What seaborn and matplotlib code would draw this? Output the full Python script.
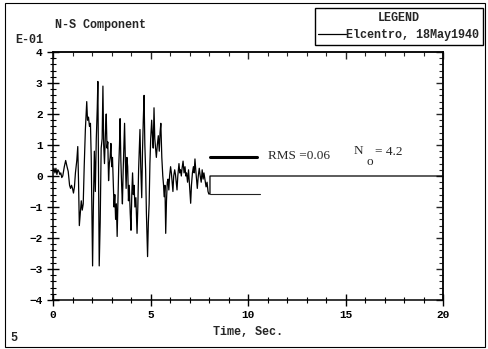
import matplotlib
matplotlib.use("Agg")
import matplotlib.pyplot as plt
import seaborn as sns
import pandas as pd
from matplotlib.patches import Rectangle

# ---- data ----
time_s = [0.00, 0.05, 0.10, 0.15, 0.20, 0.25, 0.30, 0.35, 0.40, 0.45, 0.50, 0.58, 0.65, 0.72, 0.78,
          0.85, 0.90, 0.95, 1.00, 1.05, 1.10, 1.15, 1.22, 1.27, 1.31, 1.35, 1.40, 1.45, 1.50, 1.55,
          1.60, 1.66, 1.70, 1.73, 1.77, 1.82, 1.87, 1.92, 1.96, 2.00, 2.03, 2.07, 2.12, 2.17, 2.22,
          2.27, 2.30, 2.33, 2.37, 2.42, 2.47, 2.52, 2.56, 2.60, 2.64, 2.69, 2.73, 2.77, 2.81, 2.85,
          2.89, 2.93, 2.97, 3.01, 3.05, 3.09, 3.13, 3.17, 3.21, 3.25, 3.29, 3.33, 3.37, 3.41, 3.44,
          3.48, 3.52, 3.56, 3.60, 3.64, 3.67, 3.71, 3.75, 3.79, 3.83, 3.87, 3.91, 3.96, 4.00, 4.04,
          4.08, 4.12, 4.16, 4.20, 4.25, 4.31, 4.35, 4.39, 4.43, 4.46, 4.50, 4.55, 4.59, 4.63, 4.67,
          4.71, 4.75, 4.79, 4.85, 4.89, 4.93, 4.97, 5.01, 5.06, 5.10, 5.14, 5.18, 5.22, 5.26, 5.30,
          5.35, 5.40, 5.45, 5.49, 5.53, 5.58, 5.63, 5.67, 5.70, 5.74, 5.78, 5.82, 5.86, 5.90, 5.94,
          5.98, 6.03, 6.07, 6.11, 6.15, 6.19, 6.24, 6.28, 6.32, 6.36, 6.40, 6.46, 6.50, 6.54, 6.58,
          6.62, 6.67, 6.72, 6.77, 6.81, 6.85, 6.90, 6.95, 7.00, 7.06, 7.10, 7.15, 7.20, 7.24, 7.28,
          7.32, 7.36, 7.40, 7.45, 7.50, 7.55, 7.60, 7.65, 7.70, 7.74, 7.79, 7.85, 7.90, 7.95, 7.99,
          8.05, 8.05, 20.0]
accel_e01 = [0.15, 0.25, 0.10, 0.25, 0.05, 0.20, 0.15, 0.05, 0.10, -0.05, 0.00, 0.30, 0.50, 0.30, 0.15,
             -0.30, -0.40, -0.30, -0.40, -0.55, -0.35, 0.10, 0.50, 0.95, -0.20, -1.60, -1.20, -0.80, -1.10, -0.90,
             0.30, 1.50, 2.00, 2.40, 1.80, 1.90, 1.60, 1.70, 0.60, -1.50, -2.90, -1.00, 0.80, -0.50, 1.20,
             2.20, 3.05, 0.40, -2.90, -1.50, 0.90, 1.20, 2.90, 1.00, 0.40, 1.40, 2.00, 0.90, 1.10, -0.15,
             0.40, 0.60, 1.05, 0.30, 0.60, -0.20, -1.00, -0.60, -1.40, -0.90, -1.95, -0.80, 0.30, 1.00, 1.85,
             0.50, -0.30, -0.90, 0.20, 1.00, 1.70, 0.50, -0.40, 0.60, 0.30, -0.80, -0.30, -1.20, -1.75, -0.60,
             0.10, -0.60, -0.30, -1.00, -0.70, -1.85, -1.00, 0.20, 1.00, 1.50, 0.30, -0.70, 0.80, 1.80, 2.60,
             1.00, 0.20, -1.20, -2.60, -1.50, -0.90, 0.40, 1.20, 1.80, 1.30, 0.90, 2.20, 1.20, 0.90, 0.60,
             1.00, 1.30, 0.80, 1.40, 1.70, 0.60, 0.00, -0.30, -0.67, -0.30, -1.85, -0.80, -0.20, -0.10, -0.45,
             0.00, 0.30, 0.10, -0.20, -0.50, 0.00, 0.20, 0.05, -0.20, -0.45, 0.00, 0.40, 0.10, 0.20, 0.00,
             0.25, 0.48, 0.10, 0.30, 0.00, 0.10, -0.20, 0.20, -0.30, -0.88, -0.30, 0.10, 0.30, 0.10, 0.55,
             0.20, -0.10, -0.40, 0.00, 0.25, 0.00, -0.20, 0.20, -0.10, 0.10, -0.10, -0.35, -0.20, -0.50, -0.58,
             -0.58, 0.00, 0.00]
rms_bar_t = [8.05, 10.45]
rms_bar_v = [0.62, 0.62]
low_bar_t = [8.05, 10.6]
low_bar_v = [-0.58, -0.58]
series_label = "Elcentro, 18May1940"
rms_text = "RMS =0.06"
n0_value = "= 4.2"
x_ticks = [0, 5, 10, 15, 20]
y_ticks = [-4, -3, -2, -1, 0, 1, 2, 3, 4]

df = pd.DataFrame({"t": time_s, "a": accel_e01})

sns.set_style("ticks")
plt.rcParams["font.family"] = ["Liberation Mono", "DejaVu Sans Mono"]
plt.rcParams["font.weight"] = "bold"

W, H = 488, 349
fig = plt.figure(figsize=(W / 100, H / 100), dpi=100)
fig.patch.set_facecolor("white")
ax = fig.add_axes([53 / W, 1 - 300 / H, (443 - 53) / W, (300 - 52) / H])
ax.set_facecolor("white")

sns.lineplot(data=df, x="t", y="a", sort=False, estimator=None, color="black",
             linewidth=0.9, ax=ax, label=series_label)
sns.lineplot(x=rms_bar_t, y=rms_bar_v, sort=False, estimator=None, color="black",
             linewidth=2.2, ax=ax, legend=False)
sns.lineplot(x=low_bar_t, y=low_bar_v, sort=False, estimator=None, color="#222222",
             linewidth=0.8, ax=ax, legend=False)

ax.set_xlim(0, 20)
ax.set_ylim(-4, 4)
ax.set_xticks(x_ticks)
ax.set_yticks(y_ticks)
ax.set_xticks([v for v in range(0, 21) if v % 5], minor=True)
ax.set_yticks([i / 5 for i in range(-20, 21) if i % 5], minor=True)
ax.set_xlabel("Time, Sec.", fontsize=8.5, fontweight="bold", labelpad=4)
ax.set_ylabel("")
for s in ax.spines.values():
    s.set_visible(True)
    s.set_linewidth(1.1)
    s.set_color("black")

ax.tick_params(axis="both", which="both", direction="inout", top=False, right=False,
               labelsize=8, colors="black")
ax.tick_params(axis="both", which="major", length=9, width=1.0, pad=3)
ax.tick_params(axis="both", which="minor", length=5, width=0.8)
for lab in ax.get_xticklabels() + ax.get_yticklabels():
    lab.set_fontweight("bold")

sx = ax.secondary_xaxis("top")
sx.set_xticks(x_ticks)
sx.set_xticks([v for v in range(0, 21) if v % 5], minor=True)
sx.tick_params(which="both", direction="in", labeltop=False)
sx.tick_params(which="major", length=5, width=1.0)
sx.tick_params(which="minor", length=3, width=0.8)
sx.spines["top"].set_linewidth(1.1)
sy = ax.secondary_yaxis("right")
sy.set_yticks(y_ticks)
sy.set_yticks([i / 5 for i in range(-20, 21) if i % 5], minor=True)
sy.tick_params(which="both", direction="in", labelright=False)
sy.tick_params(which="major", length=5, width=1.0)
sy.tick_params(which="minor", length=3, width=0.8)
sy.spines["right"].set_linewidth(1.1)

serif = dict(family="Liberation Serif", fontweight="normal", fontsize=9.5)
ax.text(11.0, 0.66, rms_text, va="center", ha="left", **serif)
ax.text(15.44, 0.80, "N", va="center", ha="left", **serif)
ax.text(16.1, 0.45, "o", va="center", ha="left", **serif)
ax.text(16.5, 0.77, n0_value, va="center", ha="left", **serif)

fig.text(55 / W, 1 - 25 / H, "N-S Component", fontsize=8.5, fontweight="bold",
         ha="left", va="center")
fig.text(15 / W, 1 - 40 / H, "E-01", fontsize=8.5, fontweight="bold", ha="left", va="center")
fig.text(10 / W, 1 - 338 / H, "5", fontsize=8.5, fontweight="bold", ha="left", va="center")

leg = ax.legend(loc="upper right", bbox_to_anchor=(483 / W, 1 - 8 / H),
                bbox_transform=fig.transFigure, title="LEGEND",
                prop={"family": "Liberation Mono", "weight": "bold", "size": 8.5},
                title_fontproperties={"family": "Liberation Mono", "weight": "bold", "size": 8.5},
                frameon=True, fancybox=False, framealpha=1, edgecolor="black",
                handlelength=2.4, handletextpad=0.0, borderpad=0.3, borderaxespad=0,
                labelspacing=0.5)
leg.get_frame().set_linewidth(1.0)

fig.add_artist(Rectangle((5 / W, 2 / H), (485 - 5) / W, (346 - 2) / H,
                         transform=fig.transFigure, fill=False, edgecolor="black",
                         linewidth=0.8))

fig.savefig("out.png", dpi=100)
